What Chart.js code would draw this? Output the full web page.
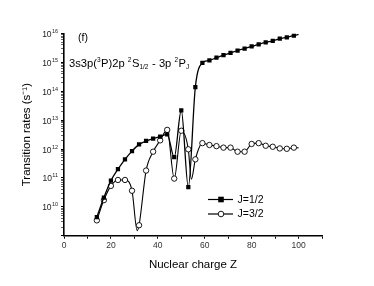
<!DOCTYPE html>
<html>
<head>
<meta charset="utf-8">
<script src="https://cdn.jsdelivr.net/npm/chart.js@4"></script>
<style>
  html, body { margin: 0; padding: 0; background: #fff; }
  #wrap { width: 374px; height: 286px; }
</style>
</head>
<body>
<div id="wrap"><canvas id="chart" width="374" height="286"></canvas></div>
<script>
// nuclear charge Z and transition rates (s^-1)
var zHalf = [14, 17, 20, 23, 26, 29, 32, 35, 38, 41, 44, 47, 50, 53, 56, 59, 62, 65, 68, 71, 74, 77, 80, 83, 86, 89, 92, 95, 98, 100];
var rateHalf = [4.4e9, 2.1e10, 8e10, 2e11, 4.4e11, 8.5e11, 1.45e12, 1.9e12, 2.3e12, 2.7e12, 3.2e12, 5.2e11, 2.2e13, 4.8e10, 1.4e14,
  9.6e14, 1.17e15, 1.45e15, 1.78e15, 2.14e15, 2.57e15, 3.0e15, 3.55e15, 4.2e15, 4.9e15, 5.6e15, 6.6e15, 7.4e15, 8.5e15, 9.3e15];

var zThreeHalf = [14, 17, 20, 23, 26, 29, 31.2, 32, 35, 38, 41, 44, 47, 50, 53, 54.3, 56, 59, 62, 65, 68, 71, 74, 77, 80, 83, 86, 89, 92, 95, 98, 100];
var rateThreeHalf = [3.4e9, 1.7e10, 5.3e10, 8.5e10, 8.5e10, 3.6e10, 1.5e9, 2.3e9, 1.8e11, 8.1e11, 2e12, 4.6e12, 9.5e10, 4.3e12, 9.8e11, 9e10,
  4.4e11, 1.6e12, 1.38e12, 1.26e12, 1.12e12, 1.12e12, 8.1e11, 8.1e11, 1.5e12, 1.6e12, 1.3e12, 1.2e12, 1.05e12, 1.02e12, 1.12e12, 1.1e12];

// curve points that carry no symbol
var unmarkedZ = [31.2, 54.3, 100];

var seriesNames = ['J=1/2', 'J=3/2'];
var xTickLabels = [0, 20, 40, 60, 80, 100];
var yExponents = [10, 11, 12, 13, 14, 15, 16];

function toPoints (zs, rates) {
  var pts = [];
  for (let i = 0; i < zs.length; i++) {
    pts.push({ x: zs[i], y: rates[i] });
  }
  return pts;
}

function markerRadius (zs, r) {
  return zs.map(function (z) { return unmarkedZ.indexOf(z) >= 0 ? 0 : r; });
}

var FONT = 'Liberation Sans, Arial, sans-serif';

// superscript tick labels, panel text and legend
var decorPlugin = {
  id: 'decor',
  afterDraw: function (chart) {
    const ctx = chart.ctx;
    const yScale = chart.scales.y;
    ctx.save();
    ctx.fillStyle = '#222';
    ctx.textBaseline = 'alphabetic';
    for (let i = 0; i < yExponents.length; i++) {
      const py = yScale.getPixelForValue(Math.pow(10, yExponents[i]));
      ctx.font = '5.5px ' + FONT;
      ctx.textAlign = 'right';
      const sup = String(yExponents[i]);
      ctx.fillText(sup, 58, py - 0.5);
      const supW = ctx.measureText(sup).width;
      ctx.font = '8.5px ' + FONT;
      ctx.fillText('10', 58 - supW - 0.3, py + 3.5);
    }

    // panel label
    ctx.fillStyle = '#000';
    ctx.textAlign = 'left';
    ctx.font = '10.5px ' + FONT;
    ctx.fillText('(f)', 78, 41);

    var parts = [
      ['3s3p(', 'n'], ['3', 'sup'], ['P)2p ', 'n'], ['2', 'sup'], ['S', 'n'], ['1/2', 'sub'],
      [' - 3p ', 'n'], ['2', 'sup'], ['P', 'n'], ['J', 'sub']
    ];
    var x = 69;
    var base = 66.5;
    for (let i = 0; i < parts.length; i++) {
      const kind = parts[i][1];
      let yy = base;
      if (kind === 'n') {
        ctx.font = '11.2px ' + FONT;
      } else if (kind === 'sup') {
        ctx.font = '6.5px ' + FONT;
        yy = base - 5;
      } else {
        ctx.font = '6.5px ' + FONT;
        yy = base + 2.5;
      }
      ctx.fillText(parts[i][0], x, yy);
      x += ctx.measureText(parts[i][0]).width + (kind === 'n' ? 0 : 0.5);
    }

    // legend
    var rows = [199.5, 214];
    ctx.strokeStyle = '#000';
    ctx.lineWidth = 1.2;
    for (let i = 0; i < rows.length; i++) {
      ctx.beginPath();
      ctx.moveTo(208, rows[i]);
      ctx.lineTo(233, rows[i]);
      ctx.stroke();
      if (i === 0) {
        ctx.fillStyle = '#000';
        ctx.fillRect(221 - 2.8, rows[i] - 2.8, 5.6, 5.6);
      } else {
        ctx.fillStyle = '#fff';
        ctx.lineWidth = 0.9;
        ctx.beginPath();
        ctx.arc(221, rows[i], 2.8, 0, Math.PI * 2);
        ctx.fill();
        ctx.stroke();
      }
      ctx.fillStyle = '#000';
      ctx.font = '10.5px ' + FONT;
      ctx.textAlign = 'left';
      ctx.textBaseline = 'middle';
      ctx.fillText(seriesNames[i], 237.5, rows[i] + 0.5);
      ctx.textBaseline = 'alphabetic';
    }
    ctx.restore();
  }
};

const ctx = document.getElementById('chart').getContext('2d');
const chart = new Chart(ctx, {
  type: 'line',
  data: {
    datasets: [
      {
        label: seriesNames[0],
        data: toPoints(zHalf, rateHalf),
        borderColor: '#000',
        backgroundColor: '#000',
        borderWidth: 1.3,
        pointStyle: 'rect',
        pointRadius: markerRadius(zHalf, 3),
        pointBorderWidth: 0,
        cubicInterpolationMode: 'monotone'
      },
      {
        label: seriesNames[1],
        data: toPoints(zThreeHalf, rateThreeHalf),
        borderColor: '#000',
        backgroundColor: '#fff',
        borderWidth: 1.1,
        pointStyle: 'circle',
        pointRadius: markerRadius(zThreeHalf, 2.7),
        pointBorderWidth: 0.9,
        cubicInterpolationMode: 'monotone'
      }
    ]
  },
  options: {
    responsive: false,
    animation: false,
    layout: { padding: { left: 0, top: 33.5, right: 52, bottom: 12 } },
    plugins: { legend: { display: false }, tooltip: { enabled: false } },
    scales: {
      x: {
        type: 'linear',
        min: 0,
        max: 110,
        afterFit: function (s) { s.height = 286 - 12 - 235.7; },
        border: { color: '#000', width: 1.6 },
        grid: { display: true, drawOnChartArea: false, drawTicks: true, tickLength: 3, tickColor: '#000', tickWidth: 1 },
        ticks: {
          stepSize: 10,
          autoSkip: false,
          maxRotation: 0,
          padding: 2,
          color: '#333',
          font: { size: 8.5, family: FONT },
          callback: function (v) { return xTickLabels.indexOf(v) >= 0 ? String(v) : ''; }
        },
        title: { display: true, text: 'Nuclear charge Z', color: '#000', font: { size: 11.5, family: FONT }, padding: { top: 0, bottom: 2 } }
      },
      y: {
        type: 'logarithmic',
        min: 1e9,
        max: 1e16,
        afterFit: function (s) { s.width = 64; },
        afterBuildTicks: function (s) {
          // log minor ticks 2..9 in every decade
          var list = [];
          for (let e = 9; e <= 16; e++) {
            for (let m = 1; m <= 9; m++) {
              if (e === 16 && m > 1) break;
              list.push({ value: m * Math.pow(10, e), major: m === 1 });
            }
          }
          s.ticks = list;
        },
        border: { color: '#000', width: 1.6 },
        grid: {
          display: true,
          drawOnChartArea: false,
          drawTicks: true,
          tickLength: 3,
          tickColor: '#000',
          tickWidth: function (c) { return c.tick && c.tick.major ? 1 : 0.6; }
        },
        ticks: { autoSkip: false, display: true, callback: function () { return ''; } },
        title: { display: true, text: 'Transition rates (s\u207B\u00B9)', color: '#000', font: { size: 11.5, family: FONT }, padding: { top: 20, bottom: 0 } }
      }
    }
  },
  plugins: [decorPlugin]
});
</script>
</body>
</html>
